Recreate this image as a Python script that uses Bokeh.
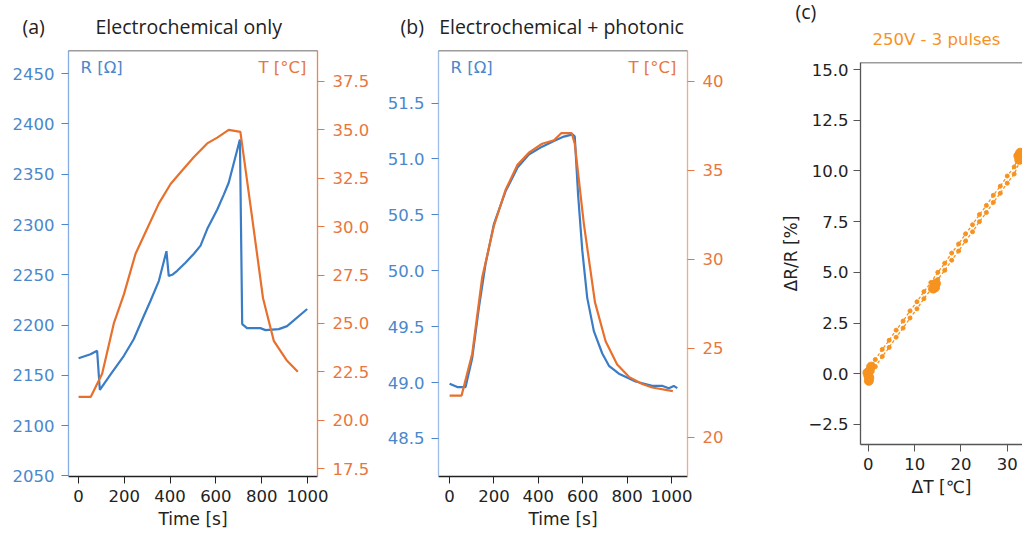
from bokeh.plotting import figure
from bokeh.models import Range1d, LinearAxis, FixedTicker, PrintfTickFormatter, CustomJSTickFormatter, Label, Span, Title
from bokeh.embed import file_html
from bokeh.resources import INLINE

# ---------------- data ----------------
# panel (a) Electrochemical only
a_time_R = [0, 52, 81, 93, 140, 198, 241, 285, 314, 351, 384, 394, 409, 431, 467, 504, 533, 562, 606, 635, 656, 705, 715, 736, 794, 817, 875, 911, 999]
a_R = [2167, 2171, 2174.5, 2135.5, 2151, 2169.5, 2186, 2209, 2224, 2244, 2273.5, 2249, 2250, 2254, 2262, 2271, 2279, 2295.5, 2315, 2330, 2341.5, 2384.5, 2201, 2197, 2197, 2195, 2196, 2199, 2216]
a_time_T = [0, 53, 103, 154, 198, 249, 300, 351, 402, 445, 504, 562, 606, 656, 707, 758, 806, 853, 909, 958]
a_T = [21.2, 21.2, 22.4, 25.0, 26.5, 28.6, 29.9, 31.2, 32.2, 32.8, 33.6, 34.3, 34.6, 35.0, 34.9, 30.5, 26.3, 24.1, 23.1, 22.5]

# panel (b) Electrochemical + photonic
b_time_R = [0, 35, 72, 102, 132, 162, 200, 252, 305, 357, 417, 470, 515, 555, 564, 579, 598, 620, 650, 688, 718, 763, 838, 913, 960, 988, 1010, 1026]
b_R = [48.99, 48.96, 48.96, 49.22, 49.67, 50.06, 50.42, 50.71, 50.92, 51.04, 51.11, 51.16, 51.20, 51.22, 51.20, 50.68, 50.18, 49.76, 49.46, 49.26, 49.15, 49.08, 49.01, 48.97, 48.97, 48.95, 48.97, 48.95]
b_time_T = [0, 54, 102, 147, 200, 252, 305, 357, 417, 470, 504, 550, 564, 605, 655, 703, 755, 808, 868, 913, 1006]
b_T = [22.35, 22.35, 24.7, 29.0, 31.9, 33.9, 35.3, 36.0, 36.5, 36.7, 37.1, 37.1, 36.5, 32.0, 27.6, 25.4, 24.1, 23.4, 23.0, 22.8, 22.6]

# panel (c) 250V - 3 pulses
c_dT = [0.3, 1.5, 3.0, 4.5, 6.0, 7.5, 9.0, 10.5, 12.0, 13.5, 15.0, 16.5, 18.0, 19.5, 21.0, 22.5, 24.0, 25.5, 27.0, 28.5, 30.0, 31.5, 32.8]
c_dR_up = [0.25, 0.7, 1.2, 1.65, 2.15, 2.6, 3.1, 3.55, 4.05, 4.5, 5.0, 5.45, 5.95, 6.4, 6.9, 7.35, 7.85, 8.3, 8.8, 9.25, 9.75, 10.2, 10.85]
c_dR_lo = [-0.1, 0.35, 0.85, 1.3, 1.8, 2.25, 2.75, 3.2, 3.7, 4.15, 4.65, 5.1, 5.6, 6.05, 6.55, 7.0, 7.5, 7.95, 8.45, 8.9, 9.4, 9.85, 10.5]
c_pk_dT = [-0.2, 0.0, 0.1, 0.3, 0.6, 0.2, 14.0, 14.3, 14.6, 14.4, 32.4, 32.8, 33.1, 32.6]
c_pk_dR = [0.05, -0.1, -0.35, 0.15, 0.35, -0.2, 4.2, 4.35, 4.45, 4.25, 10.75, 10.9, 10.8, 10.55]

a_R_ticks = [2050, 2100, 2150, 2200, 2250, 2300, 2350, 2400, 2450]
a_T_ticks = [17.5, 20.0, 22.5, 25.0, 27.5, 30.0, 32.5, 35.0, 37.5]
b_R_ticks = [48.5, 49.0, 49.5, 50.0, 50.5, 51.0, 51.5]
b_T_ticks = [20, 25, 30, 35, 40]
time_ticks = [0, 200, 400, 600, 800, 1000]
c_y_ticks = [-2.5, 0.0, 2.5, 5.0, 7.5, 10.0, 12.5, 15.0]
c_x_ticks = [0, 10, 20, 30]

# ---------------- style ----------------
BLUE = "#3A7CC6"
ORANGE = "#E8702D"
BLUE_TXT = "#4A88CC"
ORANGE_TXT = "#E8773D"
C_ORANGE = "#F7921E"
DARK = "#222222"
FONT = "DejaVu Sans"
TITLE_FONT = "Open Sans"
TICK_SIZE = "16.5px"
NBSP = "\u00a0"
H = 533

# page template: the three panels side by side, each an independent root (no frame alignment)
TEMPLATE = """
{% block postamble %}
<style>
  html, body { margin: 0 !important; padding: 0 !important; overflow: hidden; }
  body { display: flex !important; flex-direction: row; align-items: flex-start; }
</style>
{% endblock %}
"""


def style_axis(ax, line_color, text_color):
    ax.axis_line_color = line_color
    ax.axis_line_width = 1.3
    ax.major_tick_line_color = line_color
    ax.major_tick_out = 7
    ax.major_tick_in = 0
    ax.minor_tick_line_color = None
    ax.major_label_text_color = text_color
    ax.major_label_text_font = FONT
    ax.major_label_text_font_size = TICK_SIZE
    ax.major_label_standoff = 7
    ax.axis_label_text_font = FONT
    ax.axis_label_text_font_size = "17px"
    ax.axis_label_text_font_style = "normal"
    ax.axis_label_text_color = DARK


class Frame:
    def __init__(self, xr, yr, fw, fh):
        self.xr, self.yr, self.fw, self.fh = xr, yr, fw, fh

    def dx(self, px):  # px: offset from frame left, in pixels
        return self.xr[0] + px / self.fw * (self.xr[1] - self.xr[0])

    def dy(self, py):  # py: offset from frame bottom (upwards), in pixels
        return self.yr[0] + py / self.fh * (self.yr[1] - self.yr[0])


def base_fig(width, left, right, top, bottom, xr, yr, title):
    p = figure(width=width, height=H, x_range=Range1d(*xr), y_range=Range1d(*yr),
               output_backend="svg", toolbar_location=None,
               min_border_left=left, min_border_right=right,
               min_border_top=top, min_border_bottom=bottom, title=title)
    p.outline_line_color = None
    p.grid.visible = False
    p.background_fill_color = "white"
    p.border_fill_color = "white"
    p.add_layout(Span(location=yr[1], dimension="width", line_color="#3a3a3a", line_width=1.3))
    fr = Frame(xr, yr, width - left - right, H - top - bottom)
    return p, fr


def add_label(p, x, y, text, font, size, color, align="left"):
    p.add_layout(Label(x=x, y=y, text=text, text_font=font, text_font_size=size,
                       text_color=color, text_baseline="middle", text_align=align))


def twin_panel(width, left, right, xr, yr, tr, r_ticks, r_fmt, t_ticks, t_fmt,
               tR, R, tT, T, left_line, right_line, tag, tag_x, gap, title):
    p, fr = base_fig(width, left, right, 49, 57, xr, yr, tag + NBSP * gap + title)
    p.title.align = "left"
    p.title.offset = tag_x
    p.title.text_font = TITLE_FONT
    p.title.text_font_size = "19.5px"
    p.title.text_font_style = "normal"
    p.title.text_color = DARK
    p.title.standoff = 21

    p.extra_y_ranges = {"T": Range1d(*tr)}
    xa = p.below[0]
    xa.ticker = FixedTicker(ticks=time_ticks)
    xa.formatter = PrintfTickFormatter(format="%d")
    xa.axis_label = "Time [s]"
    style_axis(xa, DARK, DARK)
    xa.major_label_standoff = 6
    xa.axis_label_standoff = 4
    ya = p.left[0]
    ya.ticker = FixedTicker(ticks=r_ticks)
    ya.formatter = PrintfTickFormatter(format=r_fmt)
    style_axis(ya, left_line, BLUE_TXT)
    ya.major_tick_line_color = BLUE_TXT
    ra = LinearAxis(y_range_name="T", ticker=FixedTicker(ticks=t_ticks),
                    formatter=PrintfTickFormatter(format=t_fmt))
    style_axis(ra, right_line, ORANGE_TXT)
    ra.major_tick_line_color = ORANGE_TXT
    ra.major_label_standoff = 8
    p.add_layout(ra, "right")

    p.line(tR, R, line_color=BLUE, line_width=2.2)
    p.line(tT, T, line_color=ORANGE, line_width=2.2, y_range_name="T")

    add_label(p, fr.dx(12), fr.dy(fr.fh - 17), "R [Ω]", FONT, "16.5px", BLUE_TXT)
    add_label(p, fr.dx(fr.fw - 11), fr.dy(fr.fh - 17), "T [°C]", FONT, "16.5px", ORANGE_TXT, "right")
    return p


pa = twin_panel(375, 68, 58, (-44, 1044), (2049.5, 2473), (17.09, 39.1),
                a_R_ticks, "%d", a_T_ticks, "%.1f",
                a_time_R, a_R, a_time_T, a_T, "#86ADDF", "#EC8650",
                "(a)", -46, 10, "Electrochemical only")

pb = twin_panel(370, 63, 58, (-50, 1072), (48.16, 51.97), (17.8, 41.74),
                b_R_ticks, "%.1f", b_T_ticks, "%d",
                b_time_R, b_R, b_time_T, b_T, "#9DBDE6", "#F2AB82",
                "(b)", -38, 3, "Electrochemical + photonic")

# panel (c)
pc, frc = base_fig(277, 115, 0, 62, 89, (-1.7, 33.3), (-3.49, 15.35), "(c)")
pc.title.align = "left"
pc.title.offset = -65
pc.title.text_font = TITLE_FONT
pc.title.text_font_size = "19.5px"
pc.title.text_font_style = "normal"
pc.title.text_color = DARK
try:
    pc.title.standoff = -20
except Exception:
    pc.title.standoff = 0
pc.add_layout(Title(text="250V - 3 pulses", align="left", offset=12, text_font=FONT,
                    text_font_size="16.5px", text_font_style="normal", text_color=C_ORANGE,
                    standoff=27), "above")

xc = pc.below[0]
xc.ticker = FixedTicker(ticks=c_x_ticks)
xc.formatter = PrintfTickFormatter(format="%d")
xc.axis_label = "ΔT [℃]"
style_axis(xc, "#555555", DARK)
xc.major_label_standoff = 6
xc.axis_label_standoff = 4
yc = pc.left[0]
yc.ticker = FixedTicker(ticks=c_y_ticks)
yc.formatter = CustomJSTickFormatter(code="return tick.toFixed(1).replace('-', '\\u2212');")
yc.axis_label = "ΔR/R [%]"
style_axis(yc, "#555555", DARK)
yc.major_label_standoff = 5
yc.axis_label_standoff = 4

pc.line(c_dT, c_dR_up, line_color=C_ORANGE, line_width=1.3, line_dash="3 2")
pc.line(c_dT, c_dR_lo, line_color=C_ORANGE, line_width=1.3, line_dash="3 2")
pc.scatter(c_dT, c_dR_up, size=4, color=C_ORANGE)
pc.scatter(c_dT, c_dR_lo, size=4, color=C_ORANGE)
pc.scatter(c_pk_dT, c_pk_dR, size=9, color=C_ORANGE)

open("out.html", "w", encoding="utf-8").write(file_html([pa, pb, pc], INLINE, template=TEMPLATE))
